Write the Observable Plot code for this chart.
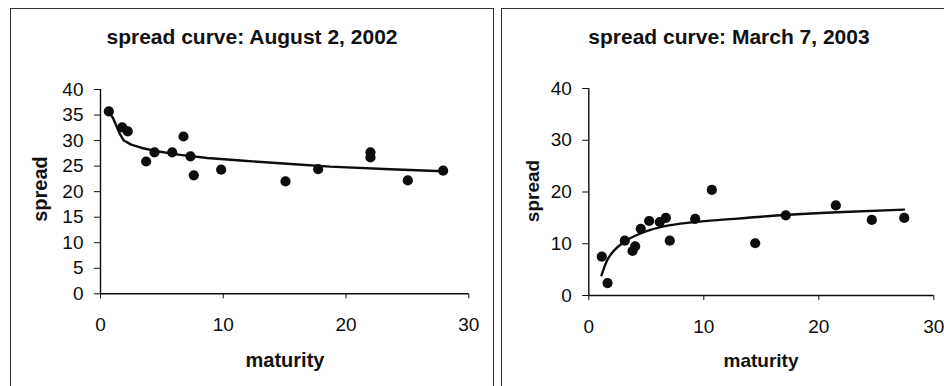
<!DOCTYPE html>
<html>
<head>
<meta charset="utf-8">
<script src="https://cdn.jsdelivr.net/npm/d3@7"></script>
<script src="https://cdn.jsdelivr.net/npm/@observablehq/plot@0.6"></script>
<style>
  html, body { margin: 0; padding: 0; background: #fff; }
  body { width: 944px; height: 386px; position: relative; overflow: hidden; font-family: "Liberation Sans", Arial, sans-serif; color: #111; }
  .panel { position: absolute; border: 1px solid #333; box-sizing: border-box; }
  .chart { position: absolute; top: 0; }
  .lbl { position: absolute; white-space: nowrap; font-weight: bold; line-height: 1; transform: translate(-50%, -50%); }
  .rot { transform: translate(-50%, -50%) rotate(-90deg); }
</style>
</head>
<body>
<div class="panel" style="left:10px;top:8px;width:484px;height:400px;"></div>
<div class="panel" style="left:501px;top:8px;width:460px;height:400px;"></div>
<div id="left" class="chart" style="left:0px;"></div>
<div id="right" class="chart" style="left:494px;"></div>
<div class="lbl" style="left:252px;top:36px;font-size:21px;">spread curve: August 2, 2002</div>
<div class="lbl" style="left:729px;top:36px;font-size:21px;">spread curve: March 7, 2003</div>
<div class="lbl" style="left:285px;top:360px;font-size:20px;">maturity</div>
<div class="lbl" style="left:761px;top:360px;font-size:19px;">maturity</div>
<div class="lbl rot" style="left:40px;top:189px;font-size:20px;">spread</div>
<div class="lbl rot" style="left:532px;top:191px;font-size:19px;">spread</div>
<script>
// August 2, 2002 — observed spreads
const augMaturity = [0.68, 1.77, 2.22, 3.72, 4.40, 5.84, 6.76, 7.33, 7.60, 9.83, 15.07, 17.73, 21.99, 21.99, 25.03, 27.91];
const augSpread   = [35.7, 32.6, 31.8, 25.9, 27.7, 27.7, 30.8, 26.9, 23.2, 24.3, 22.0, 24.4, 27.7, 26.7, 22.2, 24.1];
// August 2, 2002 — fitted curve
const augCurveMaturity = [0.68, 1.0, 1.6, 1.9, 2.5, 3.3, 4.6, 6.5, 8.7, 11.4, 15.5, 18.7, 23.6, 27.9];
const augCurveSpread   = [35.6, 34.5, 31.2, 30.0, 29.2, 28.6, 27.9, 27.2, 26.6, 26.1, 25.4, 24.9, 24.4, 24.0];

// March 7, 2003 — observed spreads
const marMaturity = [1.13, 1.63, 3.13, 3.80, 4.03, 4.52, 5.25, 6.17, 6.70, 7.04, 9.25, 10.70, 14.47, 17.13, 21.48, 24.61, 27.43];
const marSpread   = [7.5, 2.4, 10.6, 8.6, 9.5, 12.9, 14.4, 14.2, 15.0, 10.6, 14.8, 20.4, 10.1, 15.5, 17.4, 14.6, 15.0];
// March 7, 2003 — fitted curve
const marCurveMaturity = [1.1, 1.6, 2.2, 3.04, 4.5, 6.23, 9.28, 12.0, 16.7, 21.6, 27.4];
const marCurveSpread   = [3.9, 6.8, 8.7, 10.3, 12.0, 13.2, 14.2, 14.7, 15.5, 16.1, 16.6];

// Axis ticks
const xTicks = [0, 10, 20, 30];
const augYTicks = [0, 5, 10, 15, 20, 25, 30, 35, 40];
const marYTicks = [0, 10, 20, 30, 40];

const zip = (xs, ys) => xs.map((x, i) => ({x, y: ys[i]}));

function panel({pts, curve, curveType, yTicks, width, margins, tickPadY}) {
  const ink = "#0d0d0d";
  return Plot.plot({
    width, height: 386,
    marginLeft: margins[0], marginRight: margins[1], marginTop: margins[2], marginBottom: margins[3],
    style: {fontFamily: "'Liberation Sans', Arial, sans-serif", fontSize: "19px", color: ink, background: "transparent", overflow: "visible"},
    x: {domain: [0, 30]},
    y: {domain: [0, 40]},
    marks: [
      Plot.axisY({ticks: yTicks, tickSize: 6, tickPadding: tickPadY, label: null, stroke: ink, fill: ink}),
      Plot.axisX({ticks: xTicks, tickSize: 5, tickPadding: 19, label: null, stroke: ink, fill: ink}),
      Plot.ruleX([0], {stroke: ink, strokeWidth: 1.4}),
      Plot.ruleY([0], {stroke: ink, strokeWidth: 1.4}),
      Plot.line(curve, {x: "x", y: "y", stroke: ink, strokeWidth: 2.4, curve: curveType}),
      Plot.dot(pts, {x: "x", y: "y", r: 5.1, fill: ink, stroke: "none"})
    ]
  });
}

document.getElementById("left").append(panel({
  pts: zip(augMaturity, augSpread),
  curve: zip(augCurveMaturity, augCurveSpread),
  curveType: "linear",
  yTicks: augYTicks,
  width: 494,
  margins: [100, 25.7, 89, 92.7],
  tickPadY: 11
}));
document.getElementById("right").append(panel({
  pts: zip(marMaturity, marSpread),
  curve: zip(marCurveMaturity, marCurveSpread),
  curveType: "monotone-x",
  yTicks: marYTicks,
  width: 450,
  margins: [94.3, 10.7, 88, 91],
  tickPadY: 11
}));
</script>
</body>
</html>
